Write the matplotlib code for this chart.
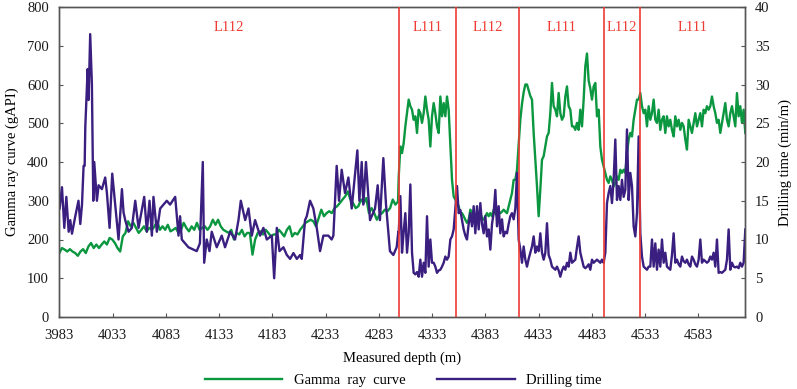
import numpy as np
import matplotlib
matplotlib.use("Agg")
import matplotlib.pyplot as plt
from matplotlib.ticker import MultipleLocator

plt.rcParams['font.family'] = ['Liberation Serif', 'DejaVu Serif']

# ---------------- data ----------------
# Gamma ray (gAPI), depth 3983-4301 sampled ~2.5 m
gr_left = [165, 178, 174, 169, 175, 169, 165, 158, 169, 175, 165, 182, 191, 178, 187, 178,
           187, 195, 187, 204, 200, 191, 178, 169, 208, 217, 247, 234, 243, 230, 217, 225,
           234, 221, 230, 225, 234, 247, 225, 234, 225, 238, 221, 225, 230, 217, 225, 243,
           230, 221, 234, 225, 243, 225, 230, 234, 225, 234, 251, 238, 251, 234, 225, 221,
           217, 225, 200, 217, 213, 225, 208, 217, 217, 161, 200, 217, 221, 213, 225, 217,
           208, 213, 213, 225, 217, 208, 225, 234, 208, 217, 213, 225, 234, 243, 247, 251,
           247, 234, 255, 277, 260, 268, 273, 268, 281, 286, 294, 303, 311, 324, 303, 294,
           281, 286, 303, 294, 307, 268, 281, 268, 251, 264, 268, 277, 273, 281, 303, 290, 298]
# Gamma ray, depth 4301.6-4627 sampled ~1.56 m
gr_right = [360, 440, 423, 449, 492, 526, 561, 544, 535, 509, 518, 475, 535, 526, 501, 526,
            569, 535, 509, 440, 518, 552, 526, 492, 475, 569, 518, 552, 518, 569, 535, 445,
            354, 311, 303, 294, 286, 268, 268, 260, 251, 243, 251, 277, 268, 260, 251, 268,
            260, 268, 255, 251, 260, 268, 260, 268, 260, 277, 268, 260, 268, 268, 272, 277,
            272, 268, 285, 303, 320, 354, 354, 380, 445, 510, 550, 580, 600, 600, 585, 570,
            561, 475, 406, 337, 260, 329, 406, 415, 440, 466, 475, 526, 604, 544, 535, 518,
            578, 526, 509, 518, 569, 595, 544, 535, 492, 492, 483, 501, 483, 535, 492, 561,
            647, 680, 610, 590, 561, 595, 604, 518, 535, 440, 406, 389, 372, 354, 346, 363,
            354, 337, 346, 363, 354, 380, 372, 380, 372, 423, 458, 475, 466, 509, 535, 561,
            561, 578, 544, 526, 535, 492, 544, 509, 526, 561, 509, 501, 535, 483, 509, 518,
            475, 518, 492, 509, 483, 466, 518, 492, 509, 483, 501, 492, 458, 432, 509, 492,
            475, 501, 526, 492, 509, 526, 492, 535, 526, 544, 535, 544, 569, 544, 526, 501,
            509, 475, 501, 526, 552, 509, 492, 526, 544, 518, 492, 578, 518, 544, 501, 535, 475]

# Drilling time (min/m), depth 3983-4301 (irregular sampling)
dt_left_depth = [3983.3, 3985.5, 3987.7, 3989.6, 3991.8, 3993.3, 3994.9, 3998.0, 4001.0, 4002.7,
                 4004.3, 4004.9, 4005.8, 4006.8, 4007.4, 4009.6, 4010.5, 4012.0, 4013.6, 4014.9,
                 4015.8, 4018.3, 4019.9, 4023.0, 4026.1, 4027.7, 4030.2, 4032.7, 4035.5, 4038.6,
                 4041.8, 4043.3, 4044.9, 4048.0, 4051.1, 4054.3, 4057.4, 4062.7, 4065.2, 4067.7,
                 4069.9, 4071.4, 4074.6, 4077.7, 4083.9, 4087.0, 4091.8, 4094.9, 4096.4, 4098.0,
                 4104.2, 4112.0, 4115.0, 4117.7, 4119.0, 4121.4, 4124.0, 4126.1, 4130.8, 4135.5,
                 4138.6, 4143.4, 4148.0, 4151.2, 4153.4, 4157.5, 4160.6, 4163.7, 4166.8, 4171.5,
                 4174.6, 4177.8, 4182.5, 4184.7, 4187.2, 4189.7, 4193.4, 4196.6, 4199.7, 4202.8,
                 4206.0, 4209.1, 4210.6, 4213.7, 4215.3, 4218.4, 4221.5, 4224.7, 4227.8, 4230.9,
                 4235.6, 4238.7, 4240.3, 4243.4, 4245.6, 4248.1, 4251.2, 4254.4, 4257.5, 4262.8,
                 4264.7, 4266.9, 4268.4, 4270.9, 4274.7, 4279.4, 4281.9, 4284.0, 4287.2, 4289.7,
                 4293.4, 4296.6, 4299.7, 4301.3]
dt_left = [14.0, 16.75, 11.5, 15.5, 11.0, 12.5, 10.75, 13.0, 15.0, 12.0,
           14.5, 16.5, 19.5, 19.5, 24.5, 32.0, 28.0, 36.5, 30.0, 15.0,
           20.0, 15.0, 17.0, 16.5, 18.0, 16.0, 11.5, 18.5, 14.5, 10.0,
           16.5, 13.5, 12.5, 11.0, 11.5, 15.0, 11.5, 15.5, 11.0, 15.0,
           10.5, 15.5, 11.0, 14.0, 15.0, 14.5, 15.5, 10.5, 13.0, 10.0,
           9.0, 8.5, 9.5, 20.0, 7.0, 10.0, 8.5, 11.0, 9.0, 10.5,
           9.0, 11.0, 10.0, 12.5, 15.0, 12.5, 14.0, 10.5, 12.5, 10.5,
           11.5, 10.0, 10.5, 5.0, 11.5, 8.5, 9.0, 8.0, 7.5, 8.25,
           7.5, 8.0, 7.5, 12.5, 13.0, 15.0, 14.0, 11.5, 8.5, 10.5,
           10.5, 10.0, 10.5, 19.5, 15.0, 19.0, 16.0, 18.0, 14.0, 21.5,
           15.0, 20.0, 14.5, 20.0, 12.5, 14.0, 17.0, 12.5, 20.5, 14.5,
           8.5, 8.0, 9.0, 11.0]
# Drilling time, depth 4301.6-4627 sampled ~1.56 m
dt_right = [10.8, 15.6, 8.3, 11.0, 13.4, 8.3, 10.8, 17.1, 8.3, 5.7, 5.5, 5.8, 5.2, 7.4, 5.2, 7.0,
            5.7, 13.0, 6.5, 10.0, 7.0, 7.0, 6.5, 5.7, 6.0, 6.1, 6.5, 7.0, 7.8, 7.4, 7.8, 10.0,
            10.4, 11.3, 14.0, 16.9, 13.4, 13.8, 12.5, 11.3, 10.5, 10.0, 12.0, 13.4, 11.7, 14.3,
            10.8, 14.3, 11.3, 14.7, 12.0, 10.8, 13.0, 10.4, 11.3, 8.7, 12.0, 13.4, 16.4, 11.7,
            14.3, 10.8, 12.6, 10.4, 11.0, 10.8, 12.0, 13.0, 13.4, 12.6, 14.0, 18.6, 10.0, 8.7,
            7.0, 9.1, 7.4, 6.5, 7.5, 8.3, 9.1, 10.4, 8.3, 9.1, 8.5, 10.8, 8.3, 7.4, 8.3, 12.1,
            8.0, 7.4, 6.5, 6.3, 6.1, 6.5, 6.0, 5.2, 6.0, 6.5, 6.1, 7.0, 6.5, 8.3, 7.0, 7.2,
            7.4, 9.0, 10.4, 8.3, 7.4, 6.5, 6.3, 6.5, 6.8, 6.1, 7.4, 7.0, 7.2, 7.4, 7.2, 7.0,
            7.4, 7.0, 8.3, 14.7, 16.0, 16.9, 14.7, 17.7, 22.9, 15.1, 16.9, 15.1, 17.7, 15.5,
            16.4, 24.2, 15.1, 18.6, 16.9, 11.7, 10.4, 13.4, 23.3, 10.8, 7.8, 6.5, 6.3, 6.1,
            6.5, 6.5, 10.0, 6.5, 9.5, 6.1, 8.7, 6.5, 10.0, 7.0, 8.3, 6.5, 6.3, 6.1, 8.0, 10.8,
            7.0, 7.4, 6.8, 6.5, 7.8, 7.2, 7.0, 7.4, 6.8, 6.5, 7.8, 7.4, 6.8, 6.5, 7.4, 10.0,
            7.0, 7.4, 7.2, 7.0, 7.2, 7.8, 7.4, 8.3, 6.5, 10.0, 5.7, 5.8, 5.7, 5.9, 6.1, 7.4,
            11.3, 6.1, 7.0, 6.5, 6.4, 6.5, 6.3, 7.0, 6.5, 7.0, 11.3]

boundaries = [4301.5, 4355.6, 4414.4, 4494.2, 4528.6]
zone_labels = ["L112", "L111", "L112", "L111", "L112", "L111"]
depth_min, depth_max = 3983, 4627
xticks = [3983, 4033, 4083, 4133, 4183, 4233, 4283, 4333, 4383, 4433, 4483, 4533, 4583]

# depth grids (regular sampling of the log)
gr_depth = np.concatenate([np.linspace(3983, 4301, len(gr_left)),
                           np.linspace(4301.6, 4627, len(gr_right))])
gr = np.array(gr_left + gr_right)
dt_depth = np.concatenate([np.array(dt_left_depth),
                           np.linspace(4301.6, 4627, len(dt_right))])
dt = np.array(dt_left + dt_right)

# ---------------- plot ----------------
W, H = 797, 389
fig = plt.figure(figsize=(W / 100, H / 100), dpi=100)
ax = fig.add_axes([59.3 / W, 1 - 317 / H, (745.3 - 59.3) / W, (317 - 7) / H])
ax2 = ax.twinx()

green = "#0b9640"
purple = "#3a1f80"
red = "#ee3b33"
spine_c = "#555555"

l1, = ax.plot(gr_depth, gr, color=green, lw=1.7, label="Gamma  ray  curve")
l2, = ax2.plot(dt_depth, dt, color=purple, lw=1.7, label="Drilling time")

for b in boundaries:
    ax2.axvline(b, color=red, lw=1.2, zorder=5)

edges = [depth_min] + boundaries + [depth_max]
for i, lab in enumerate(zone_labels):
    xc = (edges[i] + edges[i + 1]) / 2
    ax2.text(xc, 0.935, lab, transform=ax2.get_xaxis_transform(), ha="center", va="center",
             color=red, fontsize=10.5)

ax.set_xlim(depth_min, depth_max)
ax.set_ylim(0, 800)
ax2.set_ylim(0, 40)
ax.set_xticks(xticks)
ax.yaxis.set_major_locator(MultipleLocator(100))
ax2.yaxis.set_major_locator(MultipleLocator(5))

for a in (ax, ax2):
    a.tick_params(direction="in", length=3, width=0.8, color=spine_c, labelsize=10.5,
                  labelcolor="#1a1a1a")
    for s in a.spines.values():
        s.set_color(spine_c)
        s.set_linewidth(1.0)
ax.tick_params(axis="x", pad=8.5)
ax.tick_params(axis="y", pad=7.5)
ax2.tick_params(axis="y", pad=7)

ax.set_xlabel("Measured depth (m)", fontsize=10.5, labelpad=7)
ax.set_ylabel("Gamma ray curve (gAPI)", fontsize=10.5, labelpad=6)
ax2.set_ylabel("Drilling time (min/m)", fontsize=10.5, labelpad=6)

fig.legend(handles=[l1, l2], loc="center", bbox_to_anchor=(0.506, 1 - 380 / H), ncol=2,
           frameon=False, fontsize=10.5, handlelength=5.3, handletextpad=0.8,
           columnspacing=2.2)

fig.savefig("out.png", dpi=100)
